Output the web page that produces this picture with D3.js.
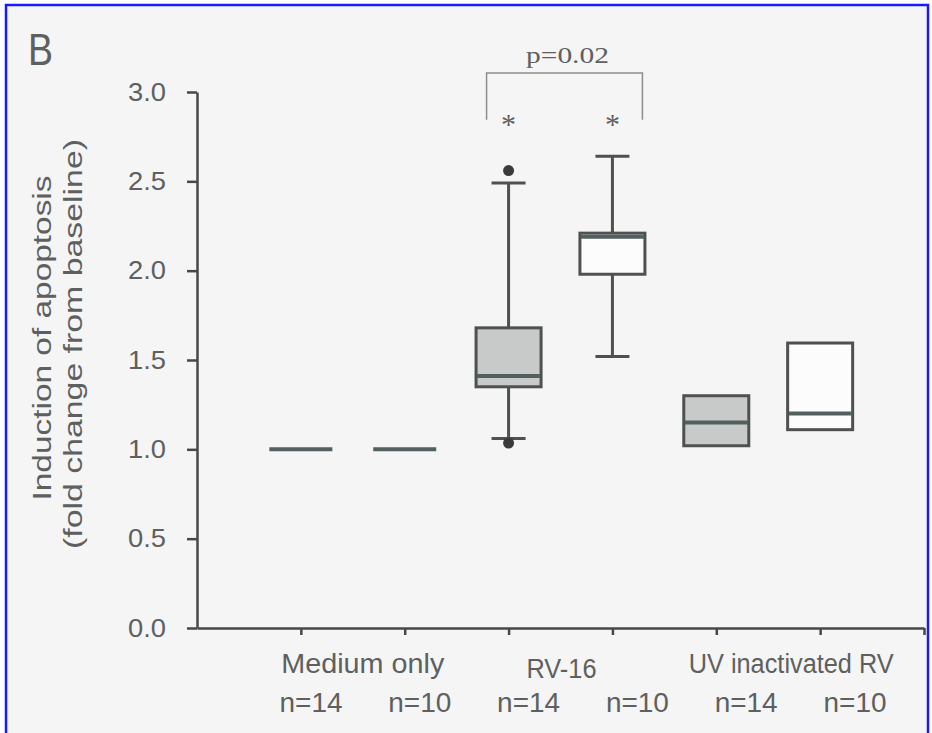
<!DOCTYPE html>
<html>
<head>
<meta charset="utf-8">
<script src="https://cdn.jsdelivr.net/npm/d3@7"></script>
<style>
  body { margin: 0; background: #fff; }
  svg { display: block; }
  text { font-family: "Liberation Sans", Arial, sans-serif; fill: #5e6060; }
  .serif { font-family: "Liberation Serif", "Times New Roman", serif; }
</style>
</head>
<body>
<svg id="chart" width="932" height="733"></svg>
<script>
(function() {

  // Group names under the axis and the n for each box.
  var groupNames = ["Medium only", "RV-16", "UV inactivated RV"];
  var nLabels = ["n=14", "n=10", "n=14", "n=10", "n=14", "n=10"];

  // Box summaries (fold change from baseline), one per box.
  var q1 = [1.0, 1.0, 1.35, 1.98, 1.02, 1.11];
  var medians = [1.0, 1.0, 1.41, 2.19, 1.15, 1.20];
  var q3 = [1.0, 1.0, 1.68, 2.21, 1.30, 1.595];
  var whiskerLow = [null, null, 1.06, 1.52, null, null];
  var whiskerHigh = [null, null, 2.49, 2.64, null, null];
  var outliers = [[], [], [2.56, 1.035], [], [], []];
  var filled = [true, false, true, false, true, false];
  var starred = [false, false, true, true, false, false];

  // Y axis ticks.
  var yTicks = [0, 0.5, 1.0, 1.5, 2.0, 2.5, 3.0];
  var pLabel = "p=0.02";

  // Colours.
  var axisColour = "#474948";
  var boxStroke = "#4e5150";
  var boxFill = "#c7cac9";
  var medianColour = "#52605f";

  var svg = d3.select("#chart");

  // Stretch text to a target width (the scan is a bit wide).
  function fit(sel, w) {
    sel.attr("textLength", w).attr("lengthAdjust", "spacingAndGlyphs");
  }

  // Page and blue frame.
  svg.append("rect")
    .attr("x", 6).attr("y", 5).attr("width", 922).attr("height", 745)
    .attr("fill", "#f4f5f4")
    .attr("stroke", "#1a1aff").attr("stroke-width", 2.5);

  var x = d3.scaleLinear().domain([0, 7]).range([197, 924]);
  var y = d3.scaleLinear().domain([0, 3]).range([628, 92]);
  var boxW = 65;
  var capW = 34;

  // Y axis.
  var yAxis = svg.append("g")
    .attr("transform", "translate(" + x(0) + ",0)")
    .call(d3.axisLeft(y).tickValues(yTicks).tickSize(10).tickSizeOuter(0)
      .tickPadding(21).tickFormat(d3.format(".1f")));
  yAxis.selectAll("path, line").attr("stroke", axisColour).attr("stroke-width", 2.5);
  yAxis.selectAll("text")
    .attr("font-size", 25).attr("fill", "#5e6060")
    .style("font-family", "'Liberation Sans', Arial, sans-serif")
    .call(fit, 38);

  // X axis.
  var xAxis = svg.append("g")
    .attr("transform", "translate(0," + y(0) + ")")
    .call(d3.axisBottom(x).tickValues([1, 2, 3, 4, 5, 6, 7]).tickSize(7)
      .tickSizeOuter(0).tickFormat(""));
  xAxis.selectAll("path, line").attr("stroke", axisColour).attr("stroke-width", 2.5);

  // Y axis title.
  var title = svg.append("g").attr("transform", "translate(0,338) rotate(-90)");
  title.append("text").attr("x", 0).attr("y", 51)
    .attr("text-anchor", "middle").attr("font-size", 26)
    .text("Induction of apoptosis").call(fit, 325);
  title.append("text").attr("x", -6).attr("y", 82)
    .attr("text-anchor", "middle").attr("font-size", 26)
    .text("(fold change from baseline)").call(fit, 410);

  // Panel letter.
  svg.append("text").attr("x", 28).attr("y", 65)
    .attr("font-size", 45).attr("fill", "#4c4e4d")
    .text("B").call(fit, 25);

  var boxes = d3.range(q1.length).map(function(i) {
    return { pos: i + 1, q1: q1[i], med: medians[i], q3: q3[i],
             lo: whiskerLow[i], hi: whiskerHigh[i], out: outliers[i],
             fill: filled[i], star: starred[i], n: nLabels[i] };
  });

  var gs = svg.selectAll(".box")
    .data(boxes)
    .enter()
    .append("g")
    .attr("class", "box")
    .attr("transform", function(d) { return "translate(" + x(d.pos) + ",0)"; });

  // Whiskers.
  gs.filter(function(d) { return d.hi != null; }).each(function(d) {
    var g = d3.select(this);
    [[d.q3, d.hi], [d.q1, d.lo]].forEach(function(w) {
      g.append("line").attr("x1", 0).attr("x2", 0)
        .attr("y1", y(w[0])).attr("y2", y(w[1]))
        .attr("stroke", boxStroke).attr("stroke-width", 3);
      g.append("line").attr("x1", -capW / 2).attr("x2", capW / 2)
        .attr("y1", y(w[1])).attr("y2", y(w[1]))
        .attr("stroke", boxStroke).attr("stroke-width", 3);
    });
  });

  // Boxes.
  gs.append("rect")
    .attr("x", -boxW / 2)
    .attr("width", boxW)
    .attr("y", function(d) { return y(d.q3); })
    .attr("height", function(d) { return y(d.q1) - y(d.q3); })
    .attr("fill", function(d) { return d.fill ? boxFill : "#fbfcfb"; })
    .attr("stroke", boxStroke)
    .attr("stroke-width", 3);

  // Medians.
  gs.append("line")
    .attr("x1", -boxW / 2 + 1).attr("x2", boxW / 2 - 1)
    .attr("y1", function(d) { return y(d.med); })
    .attr("y2", function(d) { return y(d.med); })
    .attr("stroke", medianColour)
    .attr("stroke-width", 4);

  // Outliers.
  gs.selectAll(".out")
    .data(function(d) { return d.out; })
    .enter()
    .append("circle")
    .attr("class", "out")
    .attr("cx", 0)
    .attr("cy", function(v) { return y(v); })
    .attr("r", 5.5)
    .attr("fill", "#3a3c3b");

  // Significance stars.
  gs.filter(function(d) { return d.star; })
    .append("text")
    .attr("class", "serif")
    .attr("text-anchor", "middle")
    .attr("y", y(2.85) + 15)
    .attr("font-size", 30)
    .attr("fill", "#707272")
    .text("*");

  // n labels.
  var nx = d3.scaleLinear().domain([1, 6]).range([311, 855]);
  svg.selectAll(".nlab")
    .data(boxes)
    .enter()
    .append("text")
    .attr("class", "nlab")
    .attr("x", function(d) { return nx(d.pos); })
    .attr("y", 712)
    .attr("text-anchor", "middle")
    .attr("font-size", 27)
    .text(function(d) { return d.n; })
    .call(fit, 63);

  // Group labels.
  var groupShift = [10, 1, 23];
  var groupDrop = [0, 5, 0];
  var groupW = [163, 70, 205];
  svg.selectAll(".glab")
    .data(groupNames)
    .enter()
    .append("text")
    .attr("class", "glab")
    .attr("x", function(d, i) { return x(i * 2 + 1.5) + groupShift[i]; })
    .attr("y", function(d, i) { return 673 + groupDrop[i]; })
    .attr("text-anchor", "middle")
    .attr("font-size", 27)
    .text(function(d) { return d; })
    .each(function(d, i) { d3.select(this).call(fit, groupW[i]); });

  // Bracket for the RV-16 comparison.
  var bl = x(3) - 22, br = x(4) + 30;
  svg.append("path")
    .attr("d", "M" + bl + "," + y(2.845) + "V" + y(3.106) + "H" + br + "V" + y(2.845))
    .attr("fill", "none")
    .attr("stroke", "#8c8e8d")
    .attr("stroke-width", 1.5);

  svg.append("text")
    .attr("class", "serif")
    .attr("x", (x(3) + x(4)) / 2 + 7)
    .attr("y", 63)
    .attr("text-anchor", "middle")
    .attr("font-size", 24)
    .attr("fill", "#525453")
    .text(pLabel)
    .call(fit, 83);

})();
</script>
</body>
</html>
